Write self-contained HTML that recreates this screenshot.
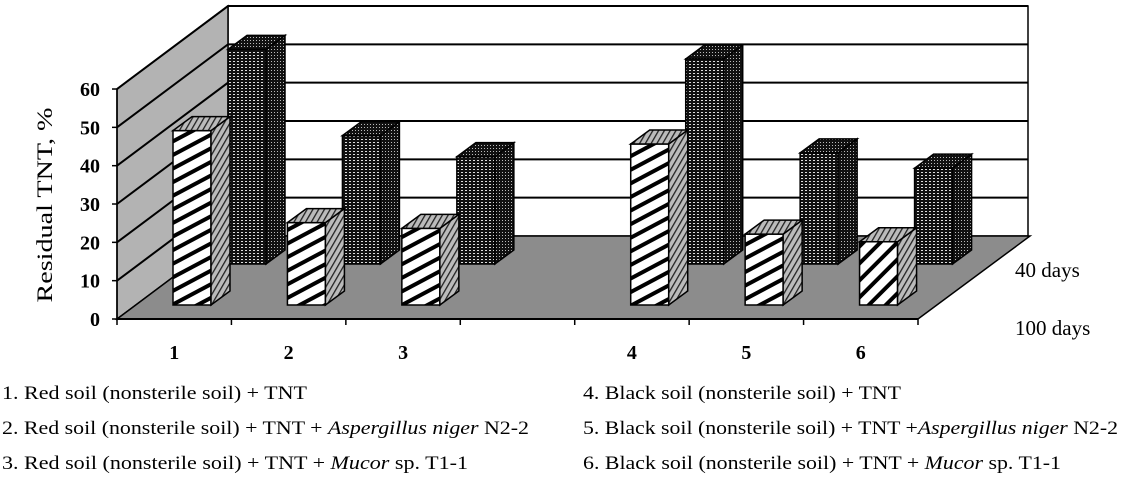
<!DOCTYPE html>
<html><head><meta charset="utf-8"><style>
body{margin:0;background:#fff;width:1125px;height:476px;overflow:hidden}
svg text{font-family:"Liberation Serif",serif}
</style></head><body>
<svg id="chart" width="1125" height="476" viewBox="0 0 1125 476" xmlns="http://www.w3.org/2000/svg">
<defs>
<pattern id="stripeFront" patternUnits="userSpaceOnUse" width="12" height="12" patternTransform="rotate(-28)"><rect width="12" height="12" fill="#fff"/><rect y="0" width="12" height="4" fill="#000"/></pattern>
<pattern id="stripeFront6" patternUnits="userSpaceOnUse" width="12" height="12" patternTransform="rotate(-45)"><rect width="12" height="12" fill="#fff"/><rect y="0" width="12" height="4" fill="#000"/></pattern>
<pattern id="sideHatch" patternUnits="userSpaceOnUse" width="5" height="5" patternTransform="rotate(-60)"><rect width="5" height="5" fill="#bbb"/><rect width="5" height="1.3" fill="#222"/></pattern>
<pattern id="grid" patternUnits="userSpaceOnUse" width="4" height="3"><rect width="4" height="3" fill="#111"/><rect x="1" y="1" width="2" height="1" fill="#ddd"/></pattern>
<pattern id="gridSide" patternUnits="userSpaceOnUse" width="3" height="3"><rect width="3" height="3" fill="#111"/><rect x="1" y="1" width="1" height="1" fill="#bbb"/></pattern>
</defs>
<g id="walls"></g>
<g id="bars"></g>
<g id="labels"></g>
<text transform="translate(52,205) rotate(-90)" text-anchor="middle" font-size="22" textLength="195" lengthAdjust="spacingAndGlyphs">Residual TNT, %</text>
<text x="1015" y="277" font-size="21">40 days</text>
<text x="1015" y="335" font-size="21">100 days</text>
<g font-size="19">
<text x="2" y="399" textLength="305" lengthAdjust="spacingAndGlyphs">1. Red soil (nonsterile soil) + TNT</text>
<text x="2" y="434" textLength="527" lengthAdjust="spacingAndGlyphs">2. Red soil (nonsterile soil) + TNT + <tspan font-style="italic">Aspergillus niger</tspan> N2-2</text>
<text x="2" y="469" textLength="466" lengthAdjust="spacingAndGlyphs">3. Red soil (nonsterile soil) + TNT + <tspan font-style="italic">Mucor</tspan> sp. T1-1</text>
<text x="583" y="399" textLength="318" lengthAdjust="spacingAndGlyphs">4. Black soil (nonsterile soil) + TNT</text>
<text x="583" y="434" textLength="535" lengthAdjust="spacingAndGlyphs">5. Black soil (nonsterile soil) + TNT +<tspan font-style="italic">Aspergillus niger</tspan> N2-2</text>
<text x="583" y="469" textLength="478" lengthAdjust="spacingAndGlyphs">6. Black soil (nonsterile soil) + TNT + <tspan font-style="italic">Mucor</tspan> sp. T1-1</text>
</g>
</svg>
<script>
const categories = ["1","2","3","","4","5","6"];
const days100 = [45.5, 21.5, 20, null, 42, 18.5, 16.5];
const days40 = [56, 33.5, 28, null, 53.5, 29, 25];
const yTicks = [0,10,20,30,40,50,60];

const NS="http://www.w3.org/2000/svg";
const X0=117, X1=918, Y0=319, PX=38.33/10, DX=111, DY=-83;
const slotW=(X1-X0)/categories.length;
const y=v=>Y0-v*PX;
function el(tag,attrs,parent){const e=document.createElementNS(NS,tag);for(const k in attrs)e.setAttribute(k,attrs[k]);parent.appendChild(e);return e;}
const walls=document.getElementById('walls'), bars=document.getElementById('bars'), labels=document.getElementById('labels');

let w=el('polygon',{points:`${X0+DX},${Y0+DY-230} 1028,${Y0+DY-230} 1028,${Y0+DY} ${X0+DX},${Y0+DY}`,fill:'#fff',stroke:'#000','stroke-width':1.5},walls);


w=el('polygon',{points:`${X0},${y(60)} ${X0+DX},${y(60)+DY} ${X0+DX},${Y0+DY} ${X0},${Y0}`,fill:'#b3b3b3',stroke:'#000','stroke-width':1.5},walls);


w=el('polygon',{points:`${X0},${Y0} ${X0+DX},${Y0+DY} 1030,${Y0+DY} ${X1},${Y0}`,fill:'#8c8c8c',stroke:'#000','stroke-width':1.5},walls);


yTicks.forEach(t=>{
  if(t>0){
    let g=el('polyline',{points:`${X0},${y(t)} ${X0+DX},${y(t)+DY} 1028,${y(t)+DY}`,fill:'none',stroke:'#000','stroke-width':2},walls);
    
    
  }
  el('line',{x1:X0-5,y1:y(t),x2:X0,y2:y(t),stroke:'#000','stroke-width':1.5},walls);
  let tx=el('text',{x:100,y:y(t)+7,'text-anchor':'end','font-size':20,'font-weight':'bold'},labels);
  tx.textContent=t;
  
  
});
el('line',{x1:X0,y1:Y0,x2:X0,y2:y(60),stroke:'#000','stroke-width':1.5},walls);
el('line',{x1:X0,y1:Y0,x2:X1,y2:Y0,stroke:'#000','stroke-width':2},walls);
for(let i=0;i<=categories.length;i++) el('line',{x1:X0+i*slotW,y1:Y0,x2:X0+i*slotW,y2:Y0+6,stroke:'#000','stroke-width':1.5},walls);
categories.forEach((c,i)=>{
  if(!c)return;
  let t=el('text',{x:X0+i*slotW+slotW/2,y:359,'text-anchor':'middle','font-size':20,'font-weight':'bold'},labels);
  t.textContent=c;
  
  
});

function bar(i,v,back,name){
  const bw=38, sd=19, sdy=-14;
  const left=X0+i*slotW+56+(back?55:0);
  const base=Y0-14+(back?-41:0);
  const top=base-v*PX;
  const g=el('g',{},bars);
  
  
  const front=back?'url(#grid)':(categories[i]==='6'?'url(#stripeFront6)':'url(#stripeFront)');
  const side=back?'url(#gridSide)':'url(#sideHatch)';
  el('rect',{x:left,y:top,width:bw,height:base-top,fill:front,stroke:'#000','stroke-width':1.5},g);
  el('polygon',{points:`${left+bw},${top} ${left+bw+sd},${top+sdy} ${left+bw+sd},${base+sdy} ${left+bw},${base}`,fill:side,stroke:'#000','stroke-width':1.5},g);
  el('polygon',{points:`${left},${top} ${left+sd},${top+sdy} ${left+bw+sd},${top+sdy} ${left+bw},${top}`,fill:back?'url(#gridSide)':'url(#sideHatch)',stroke:'#000','stroke-width':1.5},g);
}
days40.forEach((v,i)=>{if(v!=null)bar(i,v,true,'bar-40days-'+categories[i]);});
days100.forEach((v,i)=>{if(v!=null)bar(i,v,false,'bar-100days-'+categories[i]);});
</script>
</body></html>
